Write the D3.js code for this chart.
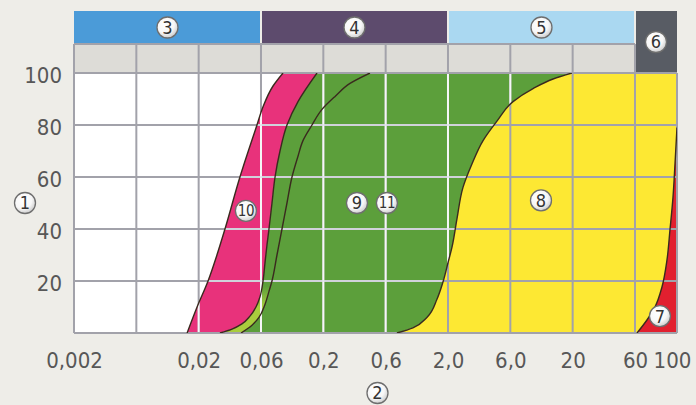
<!DOCTYPE html>
<html>
<head>
<meta charset="utf-8">
<script src="https://cdn.jsdelivr.net/npm/d3@7"></script>
<style>
  html, body { margin: 0; padding: 0; background: #eeede8; }
  svg { display: block; }
</style>
</head>
<body>
<svg id="chart" width="696" height="405"></svg>
<script>
// Grain size chart: equal-width half-decade columns (mm), percent on y.

const xTicks  = [0.002, 0.006, 0.02, 0.06, 0.2, 0.6, 2, 6, 20, 60, 100];
const xLabels = ["0,002", "", "0,02", "0,06", "0,2", "0,6", "2,0", "6,0", "20", "60", "100"];
const yTicks  = [20, 40, 60, 80, 100];

// Fractions bands across the top
const bandIds   = ["3", "4", "5", "6"];
const bandFrom  = [0.002, 0.06, 2, 60];
const bandTo    = [0.06, 2, 60, 100];

// Boundary curves, [grain size mm, percent]
const curveA = [[0.0160, 0], [0.0194, 10], [0.0236, 20], [0.0276, 30], [0.0318, 40],
                [0.0414, 60], [0.0559, 80], [0.0624, 87], [0.0757, 95], [0.0918, 100]];
const curveB = [[0.0291, 0], [0.036, 1.5], [0.0429, 3.5], [0.0494, 6.5], [0.0549, 10],
                [0.059, 14], [0.0624, 20], [0.0648, 27], [0.0674, 34], [0.070, 40],
                [0.0742, 50], [0.0787, 60], [0.0866, 70], [0.0991, 80], [0.1226, 89], [0.177, 100]];
const curveC = [[0.0422, 0], [0.0512, 3], [0.0579, 6], [0.0648, 11], [0.070, 16],
                [0.0742, 20], [0.0817, 30], [0.090, 40], [0.0991, 50], [0.1092, 60],
                [0.1226, 68], [0.135, 74], [0.1606, 80], [0.195, 86], [0.246, 91],
                [0.32, 96], [0.455, 100]];
const curveD = [[0.746, 0], [1.016, 2], [1.33, 6], [1.616, 13], [1.815, 19.6], [2.0, 27],
                [2.146, 33], [2.344, 44], [2.605, 56], [3.05, 65], [3.71, 74], [4.74, 81.5],
                [6.32, 89], [9.3, 94], [13.7, 97.7], [19.7, 100]];
const curveE = [[61.5, 0], [69.4, 5], [76.5, 10], [83.3, 17.7], [88.5, 28], [91.8, 39.6],
                [95.2, 52], [97.6, 65], [100, 79]];

// Numbered markers inside the plot
const markerIds = ["10", "9", "11", "8", "7"];
const markerAt  = [[0.046, 47], [0.362, 50], [0.615, 50], [10.85, 51], [81.3, 6.5]];

const FONT = '"Liberation Sans Narrow", "DejaVu Sans Condensed", Roboto, sans-serif';
const C = {
  bands: ["#4b9bd8", "#5d4b6d", "#aad8f1", "#585c64"],
  grayRow: "#dddcd7",
  grid: "#a2a2aa",
  pink: "#e8327b",
  green: "#5c9f3b",
  lime: "#a9cd3d",
  yellow: "#fde833",
  red: "#e1202f",
  edge: "#3a2a1e",
  text: "#575757"
};

const svg = d3.select("#chart");
const P = { left: 74, right: 677, top: 73, bottom: 333 };
const bandTop = 11, bandBottom = 44;

// last column (60..100) is narrower than the others
const lastCol = 0.674;
const colW = (P.right - P.left) / (9 + lastCol);
const x = d3.scaleLog()
  .domain(xTicks)
  .range(xTicks.map((d, i) => P.left + (i < 10 ? i : 9 + lastCol) * colW));
const y = d3.scaleLinear().domain([0, 100]).range([P.bottom, P.top]);

const defs = svg.append("defs");
defs.append("clipPath").attr("id", "plot-clip")
  .append("rect")
    .attr("x", P.left).attr("y", P.top)
    .attr("width", P.right - P.left).attr("height", P.bottom - P.top);

const lg = defs.append("linearGradient").attr("id", "lime-grad")
  .attr("gradientUnits", "userSpaceOnUse")
  .attr("x1", 0).attr("x2", 0).attr("y1", y(0)).attr("y2", y(18));
lg.append("stop").attr("offset", 0).attr("stop-color", C.lime);
lg.append("stop").attr("offset", 0.55).attr("stop-color", C.lime);
lg.append("stop").attr("offset", 1).attr("stop-color", C.green);

const rg = defs.append("radialGradient").attr("id", "badge-grad")
  .attr("cx", "40%").attr("cy", "35%").attr("r", "70%");
rg.append("stop").attr("offset", 0).attr("stop-color", "#ffffff");
rg.append("stop").attr("offset", 0.6).attr("stop-color", "#f7f7f7");
rg.append("stop").attr("offset", 1).attr("stop-color", "#c6c6c6");

// curves are smooth in x as a function of y
const line = d3.line()
  .x(d => x(d[0])).y(d => y(d[1]))
  .curve(d3.curveMonotoneY);
const cont = pts => line(pts).replace(/^M/, "L");
const corners = pts => pts.map(p => `L${x(p[0])},${y(p[1])}`).join("");
const rev = a => a.slice().reverse();

const pinkPath   = line(curveA) + cont(rev(curveB)) + "Z";
const greenPath  = line(curveB) + cont(rev(curveD)) + "Z";
const limePath   = line(curveB) + cont(rev(curveC)) + "Z";
const yellowPath = line(curveD) + corners([[100, 100], [100, 0]]) + "Z";
const redPath    = line(curveE) + corners([[100, 0]]) + "Z";

// Bands row
bandIds.forEach((id, i) => {
  const tall = i === bandIds.length - 1;
  const x0 = x(bandFrom[i]) + (i > 0 ? 1 : 0);
  const x1 = x(bandTo[i]) - (tall ? 0 : 1);
  svg.append("rect")
    .attr("x", x0).attr("y", bandTop)
    .attr("width", x1 - x0)
    .attr("height", (tall ? P.top - 1 : bandBottom) - bandTop)
    .attr("fill", C.bands[i]);
});

// Gray row under the bands
svg.append("rect")
  .attr("x", P.left).attr("y", bandBottom)
  .attr("width", x(60) - P.left - 1).attr("height", P.top - bandBottom)
  .attr("fill", C.grayRow);

// Plot background and fills
const fills = svg.append("g").attr("clip-path", "url(#plot-clip)");
fills.append("rect")
  .attr("x", P.left).attr("y", P.top)
  .attr("width", P.right - P.left).attr("height", P.bottom - P.top)
  .attr("fill", "#ffffff");
fills.append("path").attr("d", yellowPath).attr("fill", C.yellow);
fills.append("path").attr("d", greenPath).attr("fill", C.green);
fills.append("path").attr("d", limePath).attr("fill", "url(#lime-grad)");
fills.append("path").attr("d", pinkPath).attr("fill", C.pink);
fills.append("path").attr("d", redPath).attr("fill", C.red);

// Grid
const grid = svg.append("g").attr("stroke", C.grid).attr("stroke-width", 2);
xTicks.slice(0, 10).forEach(t => {
  grid.append("line")
    .attr("x1", x(t)).attr("x2", x(t))
    .attr("y1", bandBottom).attr("y2", y(0));
});
grid.append("line")
  .attr("x1", x(100)).attr("x2", x(100))
  .attr("y1", y(100)).attr("y2", y(0));
[0].concat(yTicks).forEach(v => {
  grid.append("line")
    .attr("x1", P.left).attr("x2", P.right)
    .attr("y1", y(v)).attr("y2", y(v));
});
grid.append("line")
  .attr("x1", P.left).attr("x2", x(60))
  .attr("y1", bandBottom).attr("y2", bandBottom);

// lighter grid over the pink and green fields
const soft = defs.append("clipPath").attr("id", "soft-clip");
[pinkPath, greenPath].forEach(d => soft.append("path").attr("d", d));
const softG = svg.append("g").attr("clip-path", "url(#soft-clip)");
const softInner = softG.append("g").attr("clip-path", "url(#plot-clip)");
xTicks.slice(1, 10).forEach(t => {
  softInner.append("line")
    .attr("x1", x(t)).attr("x2", x(t))
    .attr("y1", y(100) + 1).attr("y2", y(0) - 1)
    .attr("stroke", "#ffffff").attr("stroke-opacity", 0.9).attr("stroke-width", 2);
});
yTicks.slice(0, 4).forEach(v => {
  softInner.append("line")
    .attr("x1", P.left).attr("x2", P.right)
    .attr("y1", y(v)).attr("y2", y(v))
    .attr("stroke", "#dfe2ea").attr("stroke-opacity", 0.75).attr("stroke-width", 2);
});

// Boundary lines
const edges = svg.append("g").attr("clip-path", "url(#plot-clip)")
  .attr("fill", "none").attr("stroke", C.edge).attr("stroke-width", 1.4);
[curveA, curveB, curveC, curveD, curveE].forEach(c => {
  edges.append("path").attr("d", line(c));
});

// Axes
const xAxisG = svg.append("g")
  .attr("transform", `translate(0,${P.bottom})`)
  .call(d3.axisBottom(x).tickValues(xTicks).tickFormat((d, i) => xLabels[i])
    .tickSize(0).tickPadding(19));
xAxisG.select(".domain").remove();
xAxisG.selectAll("text")
  .attr("fill", C.text)
  .attr("font-size", "22px")
  .attr("font-family", FONT)
  .attr("dx", (d, i) => i === xTicks.length - 1 ? "-5px" : null);

const yAxisG = svg.append("g")
  .attr("transform", `translate(${P.left},0)`)
  .call(d3.axisLeft(y).tickValues(yTicks).tickSize(0).tickPadding(12));
yAxisG.select(".domain").remove();
yAxisG.selectAll("text")
  .attr("fill", C.text)
  .attr("font-size", "22px")
  .attr("font-family", FONT)
  .attr("dy", "0.42em");

// Circled numbers
function badge(cx, cy, label) {
  const g = svg.append("g").attr("transform", `translate(${cx},${cy})`);
  g.append("circle")
    .attr("r", 10.5)
    .attr("fill", "url(#badge-grad)")
    .attr("stroke", "#6e6e6e")
    .attr("stroke-width", 1.3);
  g.append("text")
    .attr("text-anchor", "middle")
    .attr("dy", "0.36em")
    .attr("fill", "#333333")
    .attr("font-family", FONT)
    .attr("font-size", label.length > 1 ? "15px" : "18px")
    .attr("letter-spacing", label.length > 1 ? "-0.5px" : null)
    .text(label);
}

bandIds.forEach((id, i) => {
  const tall = i === bandIds.length - 1;
  const cx = (x(bandFrom[i]) + x(bandTo[i])) / 2;
  const cy = tall ? (bandTop + P.top) / 2 : (bandTop + bandBottom) / 2;
  badge(cx, cy, id);
});
markerIds.forEach((id, i) => badge(x(markerAt[i][0]), y(markerAt[i][1]), id));

// axis titles
badge(25, (P.top + P.bottom) / 2, "1");
badge((P.left + P.right) / 2 + 2, 393, "2");
</script>
</body>
</html>
